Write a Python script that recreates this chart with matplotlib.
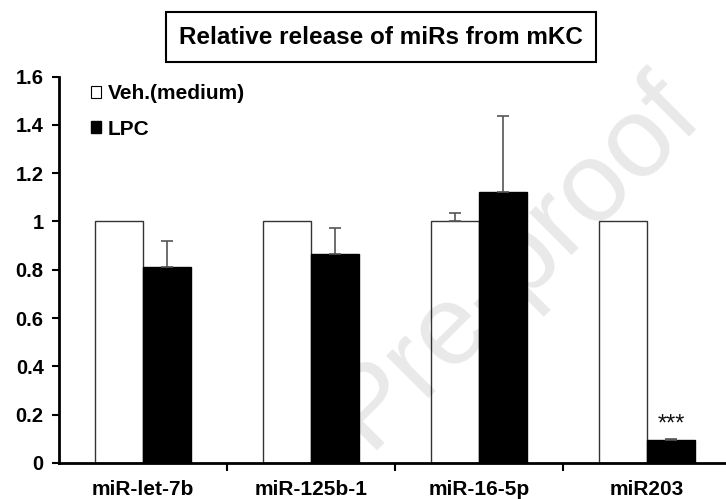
import matplotlib
matplotlib.use("Agg")
import matplotlib.pyplot as plt
from matplotlib.patches import Patch
import numpy as np

categories = ["miR-let-7b", "miR-125b-1", "miR-16-5p", "miR203"]
veh_values = [1.0, 1.0, 1.0, 1.0]
veh_err = [0.0, 0.0, 0.035, 0.0]
lpc_values = [0.81, 0.864, 1.12, 0.095]
lpc_err = [0.11, 0.11, 0.315, 0.005]
yticks = [0, 0.2, 0.4, 0.6, 0.8, 1, 1.2, 1.4, 1.6]
ytick_labels = ["0", "0.2", "0.4", "0.6", "0.8", "1", "1.2", "1.4", "1.6"]
title = "Relative release of miRs from mKC"
series_names = ["Veh.(medium)", "LPC"]

plt.rcParams['font.family'] = ['Liberation Sans', 'DejaVu Sans']

W, H = 726, 499
fig = plt.figure(figsize=(W / 100, H / 100), dpi=100)
ax = fig.add_axes([59 / W, 36 / H, 672 / W, 386.5 / H])

x = np.arange(len(categories))
bw = 0.287
ax.bar(x - bw / 2, veh_values, bw, color="white", edgecolor="#333333", linewidth=1.0, zorder=2)
ax.bar(x + bw / 2, lpc_values, bw, color="black", edgecolor="black", linewidth=1.0, zorder=2)

ekw = dict(fmt="none", ecolor="#555555", elinewidth=1.2, capsize=4.5, capthick=1.2, zorder=3)
veh_idx = [i for i, e in enumerate(veh_err) if e > 0]
ax.errorbar(x[veh_idx] - bw / 2, [veh_values[i] for i in veh_idx],
            yerr=[np.zeros(len(veh_idx)), [veh_err[i] for i in veh_idx]], **ekw)
ax.errorbar(x + bw / 2, lpc_values, yerr=[np.zeros(4), lpc_err], **ekw)

ax.text(x[3] + bw / 2, lpc_values[3] + lpc_err[3] + 0.012, "***",
        ha="center", va="bottom", fontsize=17, color="#111111")

ax.set_xlim(-0.5, 3.5)
ax.set_ylim(0, 1.6)
ax.set_yticks(yticks)
ax.set_yticklabels(ytick_labels, fontsize=14.5, fontweight="bold")
ax.set_xticks([0.5, 1.5, 2.5])
ax.set_xticklabels([])
ax.set_xticks(x, minor=True)
ax.set_xticklabels(categories, minor=True, fontsize=15, fontweight="bold")
ax.tick_params(axis="x", which="major", direction="out", length=6, width=1.5)
ax.tick_params(axis="x", which="minor", length=0, pad=12)
ax.tick_params(axis="y", direction="out", length=5, width=1.5, pad=6)
for s in ["top", "right"]:
    ax.spines[s].set_visible(False)
for s in ["left", "bottom"]:
    ax.spines[s].set_linewidth(2)
ax.spines["left"].set_bounds(0, 1.6)

handles = [Patch(facecolor="white", edgecolor="black", linewidth=0.8),
           Patch(facecolor="black", edgecolor="black")]
leg = ax.legend(handles, series_names, loc="upper left",
                bbox_to_anchor=(91 / W, 1 - 84 / H), bbox_transform=fig.transFigure,
                frameon=False, prop=dict(weight="bold", size=15),
                handlelength=0.5, handleheight=0.5, handletextpad=0.3,
                labelspacing=0.8, borderpad=0, borderaxespad=0)

fig.text(381 / W, 1 - 37 / H, title, ha="center", va="center",
         fontsize=17.5, fontweight="bold",
         bbox=dict(boxstyle="square,pad=0.55", facecolor="white",
                   edgecolor="black", linewidth=1.5))

fig.text(515 / W, 1 - 262 / H, "Pre-proof", ha="center", va="center",
         rotation=45, fontsize=82, color="black", alpha=0.09,
         family="Liberation Sans", zorder=10)

fig.savefig("out.png", dpi=100)
